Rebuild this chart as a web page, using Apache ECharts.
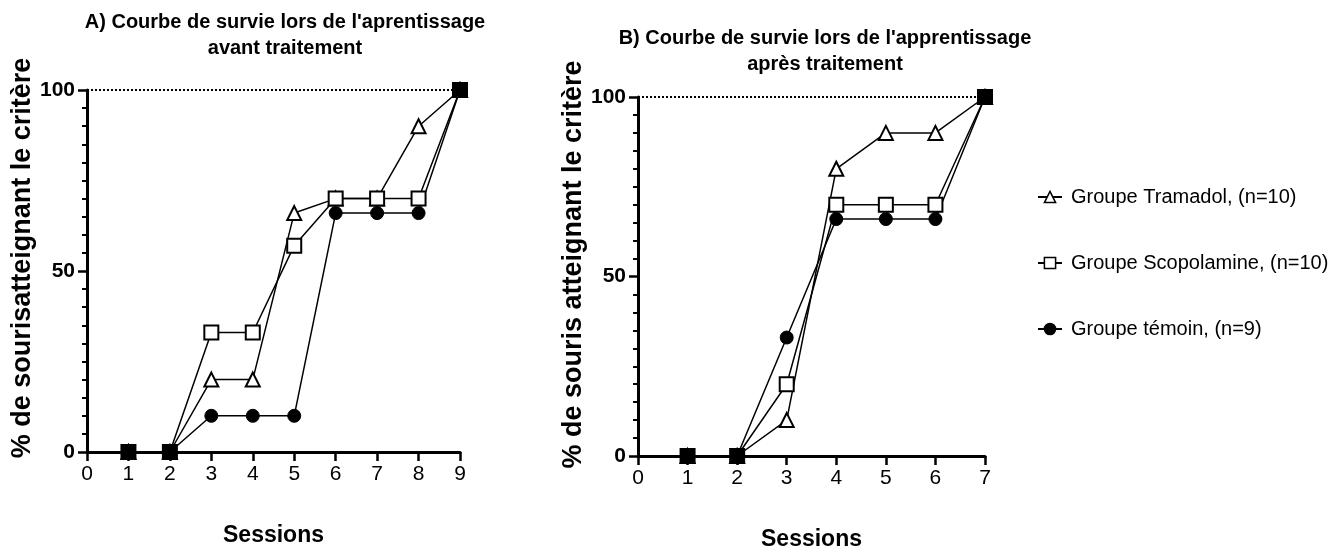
<!DOCTYPE html>
<html>
<head>
<meta charset="utf-8">
<script src="https://cdn.jsdelivr.net/npm/echarts@6/dist/echarts.min.js"></script>
<style>
html,body{margin:0;padding:0;background:#fff;}
#chart{width:1336px;height:556px;}
</style>
</head>
<body>
<div id="chart"></div>
<script>
// Data
const sessionsA = [1, 2, 3, 4, 5, 6, 7, 8, 9];
const sessionsB = [1, 2, 3, 4, 5, 6, 7];
const tramadolA = [0, 0, 20, 20, 66, 70, 70, 90, 100];
const scopolamineA = [0, 0, 33, 33, 57, 70, 70, 70, 100];
const temoinA = [0, 0, 10, 10, 10, 66, 66, 66, 100];
const tramadolB = [0, 0, 10, 80, 90, 90, 100];
const scopolamineB = [0, 0, 20, 70, 70, 70, 100];
const temoinB = [0, 0, 33, 66, 66, 66, 100];
const yTicks = [0, 50, 100];
const names = ['Groupe Tramadol, (n=10)', 'Groupe Scopolamine, (n=10)', 'Groupe témoin, (n=9)'];
const titleA = "A) Courbe de survie lors de l'aprentissage\navant traitement";
const titleB = "B) Courbe de survie lors de l'apprentissage\naprès traitement";
const yNameA = '% de sourisatteignant le critère';
const yNameB = '% de souris atteignant le critère';
const xName = 'Sessions';

const NARROW = "'Liberation Sans Narrow', 'Arial Narrow', 'Liberation Sans', sans-serif";
const WIDE = "'Liberation Sans', Arial, sans-serif";

function pairs(xs, ys) { return xs.map((x, i) => [x, ys[i]]); }

function xAxis(gridIndex, max) {
  return {
    type: 'value', gridIndex, min: 0, max, interval: 1,
    name: xName, nameLocation: 'middle', nameGap: 72,
    nameTextStyle: {fontFamily: WIDE, fontWeight: 'bold', fontSize: 23, color: '#000'},
    axisLine: {show: true, onZero: false, lineStyle: {color: '#000', width: 3}},
    axisTick: {show: true, length: 9, lineStyle: {color: '#000', width: 2.5}},
    axisLabel: {fontFamily: NARROW, fontSize: 21, color: '#000', margin: 12},
    splitLine: {show: false}
  };
}
function yAxis(gridIndex, name, gap, size, shift) {
  return {
    type: 'value', gridIndex, min: 0, max: 100, interval: 50,
    name, nameLocation: 'middle', nameGap: gap, nameRotate: 90,
    nameTextStyle: {fontFamily: WIDE, fontWeight: 'bold', fontSize: size, color: '#000',
      padding: [0, 0, 0, shift]},
    axisLine: {show: true, onZero: false, lineStyle: {color: '#000', width: 3}},
    axisTick: {show: true, length: 9, lineStyle: {color: '#000', width: 2.5}},
    minorTick: {show: true, splitNumber: 10, length: 5, lineStyle: {color: '#000', width: 2}},
    axisLabel: {fontFamily: NARROW, fontSize: 21, fontWeight: 'bold', color: '#000', margin: 12,
      formatter: v => yTicks.includes(v) ? String(v) : ''},
    splitLine: {show: false}
  };
}

function makeSeries(gridIdx, xs, dataSets) {
  // a point where all three groups coincide is drawn as a filled square
  const coincide = idx => dataSets.every(d => d[idx] === dataSets[0][idx]);
  const styles = [
    {symbol: 'triangle', symbolSize: 14, itemStyle: {color: '#fff', borderColor: '#000', borderWidth: 2}},
    {symbol: 'rect', symbolSize: 14, itemStyle: {
      color: p => coincide(p.dataIndex) ? '#000' : '#fff', borderColor: '#000', borderWidth: 2}},
    {symbol: 'circle', symbolSize: 13, itemStyle: {color: '#000', borderColor: '#000', borderWidth: 1}}
  ];
  return dataSets.map((d, i) => {
    const s = {
      name: names[i], type: 'line', xAxisIndex: gridIdx, yAxisIndex: gridIdx,
      data: pairs(xs, d),
      symbol: styles[i].symbol, symbolSize: styles[i].symbolSize,
      itemStyle: styles[i].itemStyle,
      lineStyle: {color: '#000', width: 1.5},
      z: [3, 4, 2][i],
      animation: false
    };
    if (i === 0) {
      s.markLine = {
        silent: true, symbol: 'none', label: {show: false},
        lineStyle: {color: '#000', type: 'dotted', width: 2},
        data: [{yAxis: 100}]
      };
    }
    return s;
  });
}

const legendFills = ['#fff', '#fff', '#000'];
const chart = echarts.init(document.getElementById('chart'));
chart.setOption({
  backgroundColor: '#fff',
  animation: false,
  title: [
    {text: titleA, left: 280, top: 4, textAlign: 'center',
      textStyle: {fontFamily: NARROW, fontWeight: 'bold', fontSize: 20, color: '#000', lineHeight: 26}},
    {text: titleB, left: 820, top: 20, textAlign: 'center',
      textStyle: {fontFamily: NARROW, fontWeight: 'bold', fontSize: 20, color: '#000', lineHeight: 26}}
  ],
  legend: {
    data: names.map((n, i) => ({name: n, itemStyle: {color: legendFills[i], borderColor: '#000', borderWidth: 1.5}})),
    orient: 'vertical', left: 1032, top: 182, itemGap: 46,
    itemWidth: 24, itemHeight: 14,
    textStyle: {fontFamily: NARROW, fontSize: 20, color: '#000', padding: [0, 0, 0, 4]},
    selectedMode: false
  },
  grid: [
    {left: 87, top: 90, width: 373, height: 362},
    {left: 638, top: 97, width: 347, height: 361}
  ],
  xAxis: [xAxis(0, 9), xAxis(1, 7)],
  yAxis: [yAxis(0, yNameA, 50, 27, 26), yAxis(1, yNameB, 44, 27, 24)],
  series: [
    ...makeSeries(0, sessionsA, [tramadolA, scopolamineA, temoinA]),
    ...makeSeries(1, sessionsB, [tramadolB, scopolamineB, temoinB])
  ]
});
</script>
</body>
</html>
